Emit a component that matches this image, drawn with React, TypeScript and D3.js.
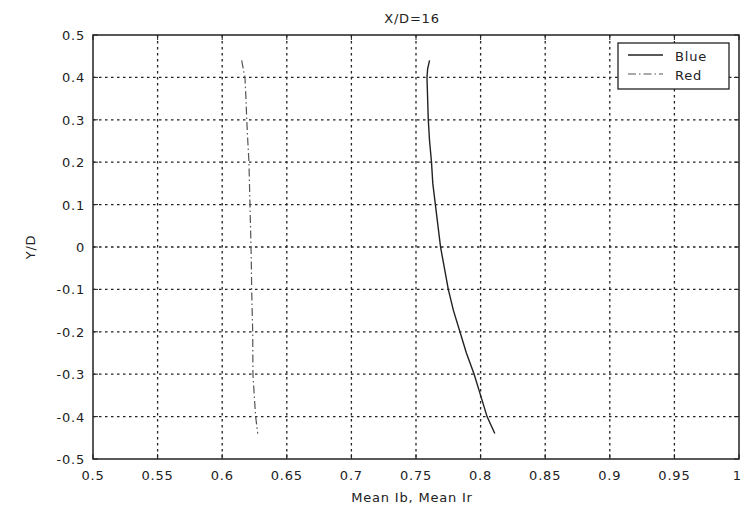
import React from "react";
import * as d3 from "d3";

const titleText = "X/D=16";
const xLabelText = "Mean Ib, Mean Ir";
const yLabelText = "Y/D";
const xTicks = [0.5, 0.55, 0.6, 0.65, 0.7, 0.75, 0.8, 0.85, 0.9, 0.95, 1];
const xTickLabels = ["0.5", "0.55", "0.6", "0.65", "0.7", "0.75", "0.8", "0.85", "0.9", "0.95", "1"];
const yTicks = [-0.5, -0.4, -0.3, -0.2, -0.1, 0, 0.1, 0.2, 0.3, 0.4, 0.5];
const yTickLabels = ["-0.5", "-0.4", "-0.3", "-0.2", "-0.1", "0", "0.1", "0.2", "0.3", "0.4", "0.5"];

const yPositions = [0.44, 0.42, 0.4, 0.35, 0.3, 0.25, 0.2, 0.15, 0.1, 0.05, 0, -0.05, -0.1, -0.15, -0.2, -0.25, -0.3, -0.35, -0.4, -0.44];
const blueValues = [0.7605, 0.759, 0.7585, 0.759, 0.7595, 0.7605, 0.762, 0.763, 0.765, 0.767, 0.769, 0.772, 0.775, 0.779, 0.784, 0.789, 0.795, 0.8, 0.805, 0.811];
const redValues = [0.6151, 0.6163, 0.6176, 0.6184, 0.619, 0.6198, 0.6207, 0.6211, 0.6215, 0.6219, 0.6223, 0.6226, 0.6228, 0.6232, 0.6236, 0.6237, 0.6238, 0.6248, 0.6259, 0.6275];
const seriesNames = ["Blue", "Red"];

const W = 742, H = 509;
const m = { left: 93, right: 3, top: 35, bottom: 50 };
const font = "'DejaVu Sans', Verdana, sans-serif";
const ink = "#222";

export default function App() {
  const x = d3.scaleLinear().domain([0.5, 1]).range([m.left, W - m.right]);
  const y = d3.scaleLinear().domain([-0.5, 0.5]).range([H - m.bottom, m.top]);
  const x0 = x(0.5), x1 = x(1), y0 = y(-0.5), y1 = y(0.5);
  const line = d3.line<[number, number]>().x(d => x(d[0])).y(d => y(d[1]));
  const blue = line(yPositions.map((v, i) => [blueValues[i], v]) as [number, number][]) || "";
  const red = line(yPositions.map((v, i) => [redValues[i], v]) as [number, number][]) || "";
  const lx = 618, ly = 43, lw = 111, lh = 46;
  const txt = { fontFamily: font, fontSize: 13, fill: ink, letterSpacing: 0.8 } as const;
  const lastIdx = xTicks.length - 1;
  return (
    <svg width={W} height={H} style={{ position: "absolute", left: 0, top: 0, background: "#fff" }}>
      <rect x={0} y={0} width={W} height={H} fill="#fff" />
      {xTicks.slice(1, -1).map(t => (
        <line key={"gx" + t} x1={x(t)} x2={x(t)} y1={y1} y2={y0} stroke={ink} strokeWidth={1.3} strokeDasharray="2.5,3.5" />
      ))}
      {yTicks.slice(1, -1).map(t => (
        <line key={"gy" + t} x1={x0} x2={x1} y1={y(t)} y2={y(t)} stroke={ink} strokeWidth={1.3} strokeDasharray="2.5,3.5" />
      ))}
      {xTicks.map(t => (
        <g key={"tx" + t}>
          <line x1={x(t)} x2={x(t)} y1={y0} y2={y0 - 5} stroke={ink} strokeWidth={1} />
          <line x1={x(t)} x2={x(t)} y1={y1} y2={y1 + 5} stroke={ink} strokeWidth={1} />
        </g>
      ))}
      {yTicks.map(t => (
        <g key={"ty" + t}>
          <line x1={x0} x2={x0 + 5} y1={y(t)} y2={y(t)} stroke={ink} strokeWidth={1} />
          <line x1={x1} x2={x1 - 5} y1={y(t)} y2={y(t)} stroke={ink} strokeWidth={1} />
        </g>
      ))}
      <path d={red} fill="none" stroke="#555" strokeWidth={1.2} strokeDasharray="8,3,1.5,3" />
      <path d={blue} fill="none" stroke="#222" strokeWidth={1.4} />
      <rect x={x0} y={y1} width={x1 - x0} height={y0 - y1} fill="none" stroke={ink} strokeWidth={1.5} />
      {xTicks.map((t, i) => (
        <text key={"lx" + t} x={i === lastIdx ? W - 1 : x(t)} y={y0 + 21} textAnchor={i === lastIdx ? "end" : "middle"} {...txt} letterSpacing={i === lastIdx ? 0 : 0.8}>{xTickLabels[i]}</text>
      ))}
      {yTicks.map((t, i) => (
        <text key={"ly" + t} x={x0 - 8} y={y(t) + 5} textAnchor="end" {...txt}>{yTickLabels[i]}</text>
      ))}
      <rect x={lx} y={ly} width={lw} height={lh} fill="#fff" stroke={ink} strokeWidth={1.3} />
      <line x1={lx + 10} x2={lx + 45} y1={ly + 12} y2={ly + 12} stroke="#222" strokeWidth={1.4} />
      <line x1={lx + 10} x2={lx + 45} y1={ly + 31} y2={ly + 31} stroke="#555" strokeWidth={1.2} strokeDasharray="8,3,1.5,3" />
      <text x={lx + 57} y={ly + 18} {...txt}>{seriesNames[0]}</text>
      <text x={lx + 57} y={ly + 37} {...txt}>{seriesNames[1]}</text>
      <text x={412} y={23} textAnchor="middle" {...txt}>{titleText}</text>
      <text x={412} y={y0 + 43} textAnchor="middle" {...txt}>{xLabelText}</text>
      <text transform={`translate(35,${(y0 + y1) / 2}) rotate(-90)`} textAnchor="middle" {...txt}>{yLabelText}</text>
    </svg>
  );
}
